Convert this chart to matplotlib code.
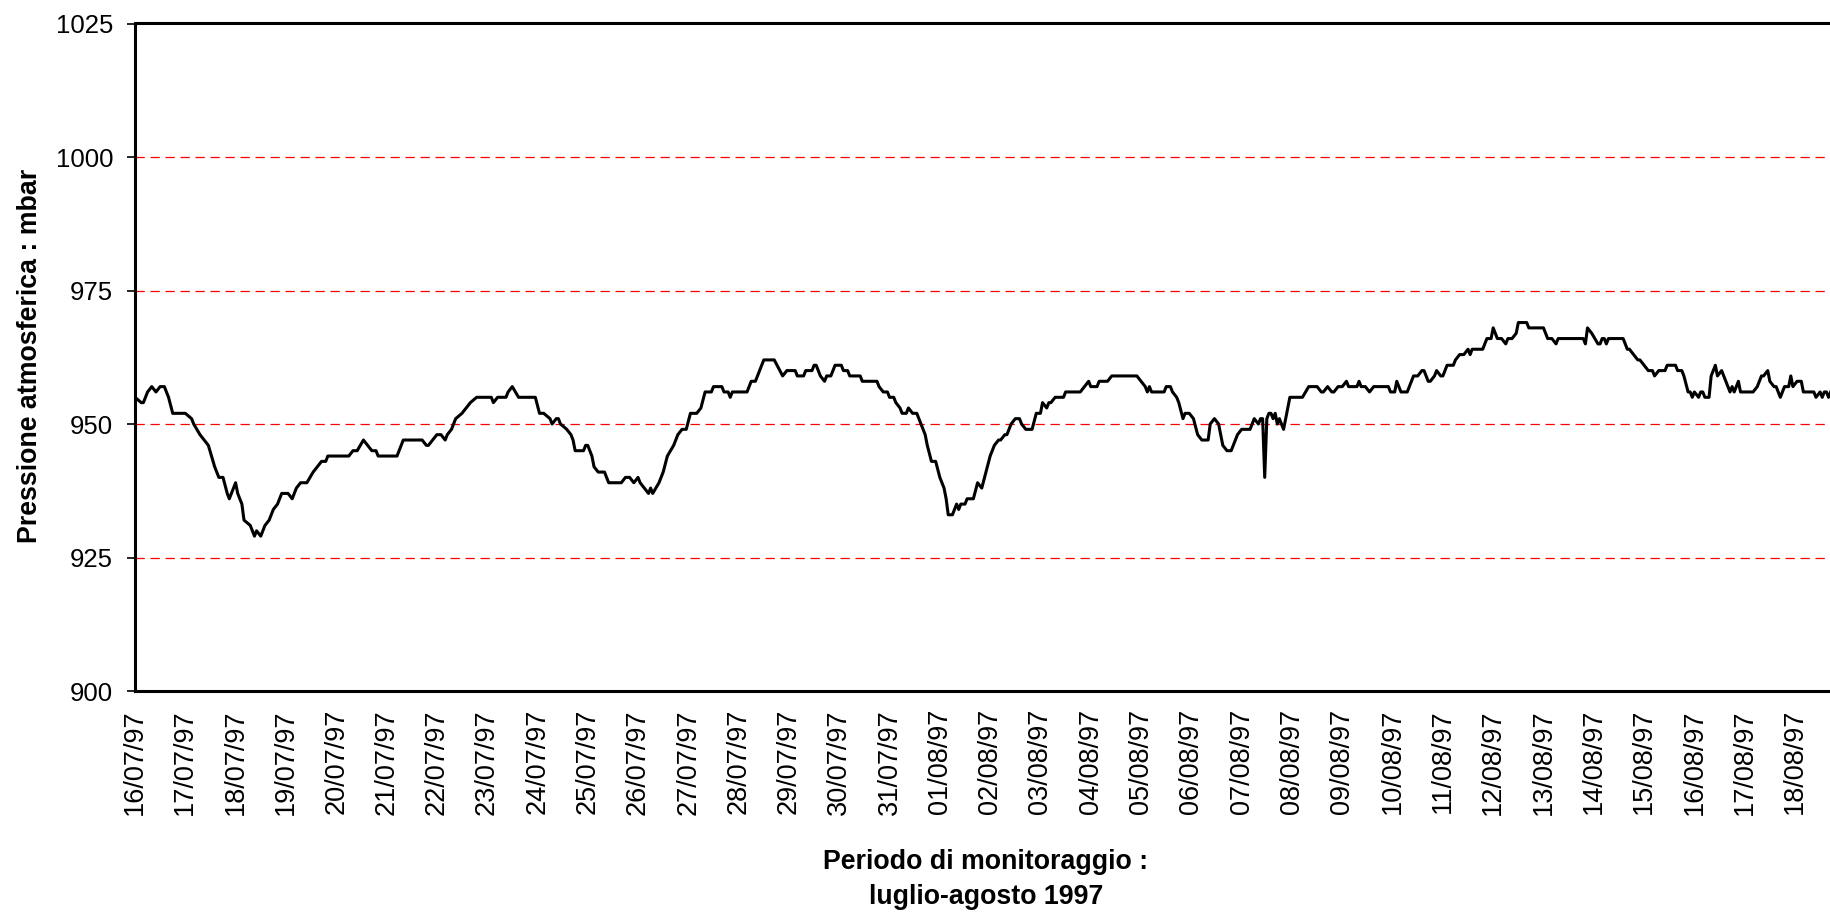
# Pressione atmosferica, monitoraggio luglio-agosto 1997 (serie oraria)

import pandas as pd
import matplotlib
matplotlib.use("Agg")
import matplotlib.pyplot as plt

plt.rcParams['font.family'] = ['Liberation Sans', 'DejaVu Sans']
plt.rcParams['lines.scale_dashes'] = False

# ore trascorse dal 16/07/97 00:00
ore = [
    0, 3, 4, 6, 8, 10, 12, 14, 15, 16, 18, 24, 27, 28, 31, 33, 35, 38, 40, 42,
    44, 45, 48, 49, 51, 52, 55, 57, 58, 60, 62, 64, 66, 68, 70, 73, 75, 77, 79, 82,
    85, 87, 89, 91, 92, 102, 104, 106, 109, 111, 113, 115, 116, 125, 128, 137, 139, 140, 142, 144,
    146, 148, 149, 151, 153, 156, 158, 160, 163, 170, 171, 173, 177, 178, 180, 183, 191, 193, 195, 198,
    199, 201, 202,
    203, 206, 208, 209, 210, 214, 215, 216, 218, 219, 221, 224, 226, 232, 234, 236, 238, 240, 241, 243,
    245, 246, 247, 250, 252, 254, 257, 259, 261, 263, 265, 268, 270, 272, 275, 276, 280, 281, 283, 284,
    285, 292, 294, 296, 298, 300, 305, 309, 311, 315, 316, 319, 320, 323, 324, 325, 327, 329, 330, 332,
    334, 337, 338, 340, 341, 346, 347, 354, 355, 357, 359, 360, 362, 363, 365, 366, 368, 369, 371, 373,
    375, 377, 378, 380, 382, 384, 386, 387, 388, 390, 392, 393, 394, 396, 397, 400, 402, 404, 406, 408,
    410, 412,
    413, 415, 416, 418, 420, 422, 423, 425, 428, 430, 432, 433, 435, 436, 437, 439, 443, 444, 451, 453,
    455, 456, 459, 460, 464, 466, 478, 480, 482, 483, 484, 485, 491, 492, 494, 495, 497, 498, 500, 501,
    503, 505, 507, 509, 510, 512, 513, 515, 517, 518, 519, 521, 523, 524, 526, 528, 532, 534, 536, 537,
    538, 539, 540, 541, 542, 543, 544, 545, 546, 548, 551, 557, 560, 564, 566, 567, 569, 571, 572, 574,
    576, 578, 579, 583, 584, 585, 587, 589, 591, 598, 599, 601, 602, 604,
    606, 607, 610, 612, 614, 615, 617, 618, 620, 621, 623, 624, 625, 626, 629, 630, 632, 634, 636, 637,
    638, 643, 645, 647, 648, 650, 652, 654, 655, 657, 659, 660, 664, 665, 672, 674, 676, 678, 679, 691,
    692, 693, 695, 698, 699, 700, 701, 702, 703, 710, 712, 713, 715, 717, 718, 720, 722, 724, 725, 727,
    730, 731, 735, 736, 738, 739, 741, 742, 743, 744, 746, 747, 748, 749, 751, 752, 754, 755, 757, 759,
    761, 762, 763, 765, 766, 772, 774, 776, 777, 779, 780, 782, 783, 785, 787, 789, 790, 791, 793, 795,
    796, 801, 802, 804, 805, 806, 807, 808, 809,
]

# pressione atmosferica (mbar)
pressione = [
    955, 954, 954, 956, 957, 956, 957, 957, 956, 955, 952, 952, 951, 950, 948, 947, 946, 942, 940, 940,
    937, 936, 939, 937, 935, 932, 931, 929, 930, 929, 931, 932, 934, 935, 937, 937, 936, 938, 939, 939,
    941, 942, 943, 943, 944, 944, 945, 945, 947, 946, 945, 945, 944, 944, 947, 947, 946, 946, 947, 948,
    948, 947, 948, 949, 951, 952, 953, 954, 955, 955, 954, 955, 955, 956, 957, 955, 955, 952, 952, 951,
    950, 951, 951,
    950, 949, 948, 947, 945, 945, 946, 946, 944, 942, 941, 941, 939, 939, 940, 940, 939, 940, 939, 938,
    937, 938, 937, 939, 941, 944, 946, 948, 949, 949, 952, 952, 953, 956, 956, 957, 957, 956, 956, 955,
    956, 956, 958, 958, 960, 962, 962, 959, 960, 960, 959, 959, 960, 960, 961, 961, 959, 958, 959, 959,
    961, 961, 960, 960, 959, 959, 958, 958, 957, 956, 956, 955, 955, 954, 953, 952, 952, 953, 952, 952,
    950, 948, 946, 943, 943, 940, 938, 936, 933, 933, 935, 934, 935, 935, 936, 936, 939, 938, 941, 944,
    946, 947,
    947, 948, 948, 950, 951, 951, 950, 949, 949, 952, 952, 954, 953, 954, 954, 955, 955, 956, 956, 957,
    958, 957, 957, 958, 958, 959, 959, 958, 957, 956, 957, 956, 956, 957, 957, 956, 955, 954, 951, 952,
    952, 951, 948, 947, 947, 947, 950, 951, 950, 948, 946, 945, 945, 946, 948, 949, 949, 951, 950, 951,
    951, 940, 951, 952, 952, 951, 952, 950, 951, 949, 955, 955, 957, 957, 956, 956, 957, 956, 956, 957,
    957, 958, 957, 957, 958, 957, 957, 956, 957, 957, 956, 956, 958, 956,
    956, 956, 959, 959, 960, 960, 958, 958, 959, 960, 959, 959, 960, 961, 961, 962, 963, 963, 964, 963,
    964, 964, 966, 966, 968, 966, 966, 965, 966, 966, 967, 969, 969, 968, 968, 966, 966, 965, 966, 966,
    965, 968, 967, 965, 965, 966, 966, 965, 966, 966, 964, 964, 963, 962, 962, 961, 960, 960, 959, 960,
    960, 961, 961, 960, 960, 959, 956, 956, 955, 956, 955, 956, 956, 955, 955, 959, 961, 959, 960, 958,
    956, 957, 956, 958, 956, 956, 957, 959, 959, 960, 958, 957, 957, 955, 957, 957, 959, 957, 958, 958,
    956, 956, 955, 956, 955, 956, 956, 955, 956,
]

giorni = [
    "16/07/97", "17/07/97", "18/07/97", "19/07/97", "20/07/97", "21/07/97", "22/07/97",
    "23/07/97", "24/07/97", "25/07/97", "26/07/97", "27/07/97", "28/07/97", "29/07/97",
    "30/07/97", "31/07/97", "01/08/97", "02/08/97", "03/08/97", "04/08/97", "05/08/97",
    "06/08/97", "07/08/97", "08/08/97", "09/08/97", "10/08/97", "11/08/97", "12/08/97",
    "13/08/97", "14/08/97", "15/08/97", "16/08/97", "17/08/97", "18/08/97",
]
valori_y = [900, 925, 950, 975, 1000, 1025]
linee_griglia = [925, 950, 975, 1000]

W, H = 1830, 913
fig = plt.figure(figsize=(W / 100, H / 100), dpi=100)
ax = fig.add_axes([135 / W, 1 - 691 / H, (W - 135) / W, (691 - 23.5) / H])

inizio = pd.Timestamp("1997-07-16")
tempi = inizio + pd.to_timedelta(ore, unit="h")

for lv in linee_griglia:
    ax.axhline(lv, color="#ff0000", lw=0.9, dashes=(6.7, 4.1), zorder=1)

ax.plot(tempi, pressione, color="black", lw=2.2, solid_joinstyle="round", zorder=3)

ax.set_ylim(900, 1025)
ax.set_yticks(valori_y)
ax.set_xlim(inizio, inizio + pd.Timedelta(hours=808.7))
ax.set_xticks(pd.to_datetime(giorni, format="%d/%m/%y"))
ax.set_xticklabels(giorni, rotation=90)

ax.tick_params(axis="x", length=0, pad=13, labelsize=19.5)
ax.tick_params(axis="y", length=5.8, width=1.2, direction="out", pad=10, labelsize=18.5)

for s in ["left", "bottom", "top"]:
    ax.spines[s].set_linewidth(2.2)
ax.spines["right"].set_visible(False)

fig.text(30 / W, 1 - 356 / H, "Pressione atmosferica : mbar", rotation=90,
         ha="center", va="center", fontsize=19.3, fontweight="bold")
fig.text(986 / W, 1 - 862 / H, "Periodo di monitoraggio :",
         ha="center", va="center", fontsize=19.3, fontweight="bold")
fig.text(986 / W, 1 - 897 / H, "luglio-agosto 1997",
         ha="center", va="center", fontsize=19.3, fontweight="bold")

fig.savefig("out.png", dpi=100)
